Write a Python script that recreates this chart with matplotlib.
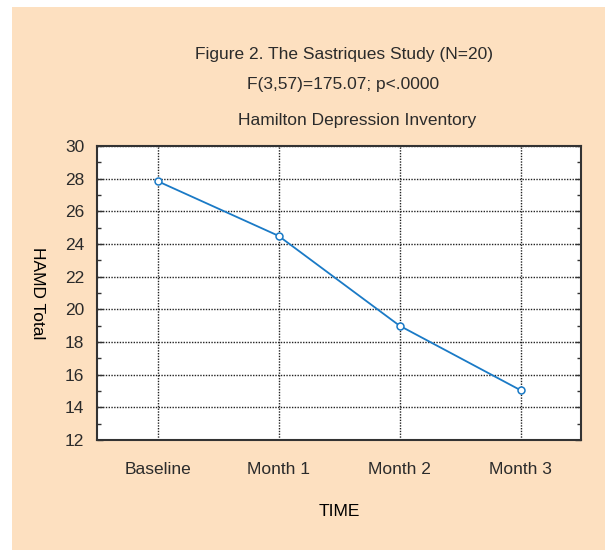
import numpy as np
import matplotlib.pyplot as plt
from matplotlib.patches import Rectangle
from matplotlib.ticker import MultipleLocator

plt.rcParams['font.family'] = ['Liberation Sans', 'DejaVu Sans']
plt.rcParams['text.color'] = '#2b2b2b'

# Données
mois = ["Baseline", "Month 1", "Month 2", "Month 3"]
hamd = [27.85, 24.5, 19.0, 15.05]

fs = 12.5
fig = plt.figure(figsize=(6.05, 5.5), dpi=100)
fig.patch.set_facecolor('white')
# fond pêche (commence un peu après le bord gauche/haut)
fig.patches.append(Rectangle((12 / 605, 0), 1 - 12 / 605, 1 - 7 / 550,
                             transform=fig.transFigure, facecolor='#fde0c0',
                             edgecolor='none', zorder=-1))

ax = fig.add_axes([97 / 605, 1 - 440 / 550, 484 / 605, 294 / 550])
ax.set_facecolor('white')

x = np.arange(len(mois))
ax.plot(x, hamd, color='#1a7ac6', lw=1.3, marker='o', ms=5,
        mfc='white', mec='#1a7ac6', mew=1.1, zorder=3)

ax.set_xlim(-0.5, 3.5)
ax.set_ylim(12, 30)
ax.set_xticks(x)
ax.set_xticklabels(mois)
ax.yaxis.set_major_locator(MultipleLocator(2))
ax.yaxis.set_minor_locator(MultipleLocator(1))
ax.tick_params(axis='x', length=0, pad=16, labelsize=fs, labelcolor='#2b2b2b')
ax.tick_params(axis='y', which='both', direction='in', right=True,
               labelsize=fs, width=1, colors='#333333', labelcolor='#2b2b2b',
               pad=9)
ax.tick_params(axis='y', which='major', length=4)
ax.tick_params(axis='y', which='minor', length=3)

ax.grid(True, which='major', color='#222222', ls=(0, (1, 1)), lw=1.0)
for s in ax.spines.values():
    s.set_color('#333333')
    s.set_linewidth(1.5)

ax.set_xlabel("TIME", fontsize=fs, va='center')
ax.xaxis.set_label_coords(0.5, -(512 - 440) / 294)
ax.set_ylabel("HAMD Total", fontsize=fs, rotation=270, va='center')
ax.yaxis.set_label_coords(-(97 - 38) / 484, 0.5)

fig.text(344 / 605, 1 - 55 / 550, "Figure 2. The Sastriques Study (N=20)",
         ha='center', va='center', fontsize=fs)
fig.text(343 / 605, 1 - 85 / 550, "F(3,57)=175.07; p<.0000",
         ha='center', va='center', fontsize=fs)
fig.text(357 / 605, 1 - 120 / 550, "Hamilton Depression Inventory",
         ha='center', va='center', fontsize=fs)

fig.savefig("out.png", dpi=100)
